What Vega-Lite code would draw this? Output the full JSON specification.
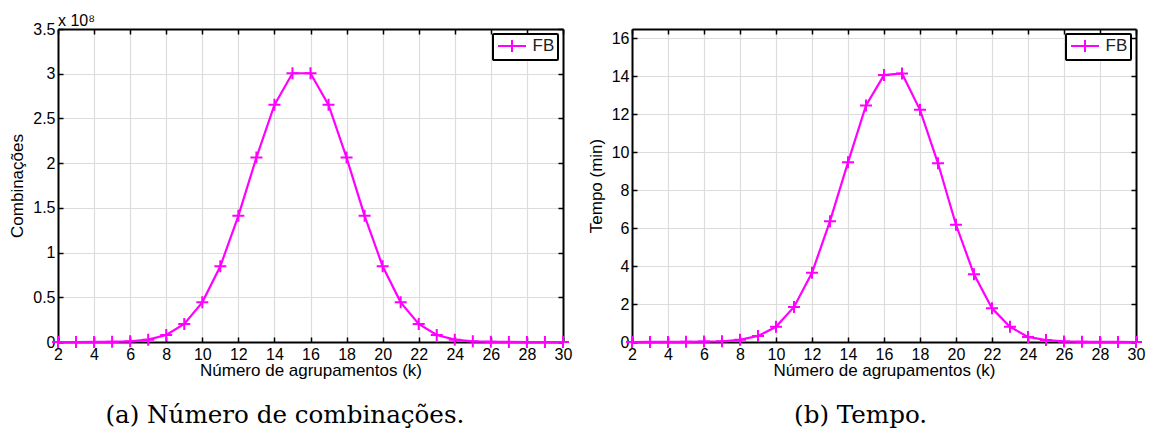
{
  "$schema": "https://vega.github.io/schema/vega-lite/v6.json",
  "background": "white",
  "padding": {"left": 8, "top": 13, "right": 5, "bottom": 4},
  "datasets": {
    "comb": [
      {"k": 2, "v": 465}, {"k": 3, "v": 4495}, {"k": 4, "v": 31465}, {"k": 5, "v": 169911},
      {"k": 6, "v": 736281}, {"k": 7, "v": 2629575}, {"k": 8, "v": 7888725}, {"k": 9, "v": 20160075},
      {"k": 10, "v": 44352165}, {"k": 11, "v": 84672315}, {"k": 12, "v": 141120525}, {"k": 13, "v": 206253075},
      {"k": 14, "v": 265182525}, {"k": 15, "v": 300540195}, {"k": 16, "v": 300540195}, {"k": 17, "v": 265182525},
      {"k": 18, "v": 206253075}, {"k": 19, "v": 141120525}, {"k": 20, "v": 84672315}, {"k": 21, "v": 44352165},
      {"k": 22, "v": 20160075}, {"k": 23, "v": 7888725}, {"k": 24, "v": 2629575}, {"k": 25, "v": 736281},
      {"k": 26, "v": 169911}, {"k": 27, "v": 31465}, {"k": 28, "v": 4495}, {"k": 29, "v": 465}, {"k": 30, "v": 31}
    ],
    "tempo": [
      {"k": 2, "v": 0.001}, {"k": 3, "v": 0.002}, {"k": 4, "v": 0.005}, {"k": 5, "v": 0.01},
      {"k": 6, "v": 0.02}, {"k": 7, "v": 0.04}, {"k": 8, "v": 0.12}, {"k": 9, "v": 0.32},
      {"k": 10, "v": 0.8}, {"k": 11, "v": 1.85}, {"k": 12, "v": 3.65}, {"k": 13, "v": 6.37},
      {"k": 14, "v": 9.47}, {"k": 15, "v": 12.47}, {"k": 16, "v": 14.07}, {"k": 17, "v": 14.16},
      {"k": 18, "v": 12.24}, {"k": 19, "v": 9.42}, {"k": 20, "v": 6.18}, {"k": 21, "v": 3.57},
      {"k": 22, "v": 1.78}, {"k": 23, "v": 0.8}, {"k": 24, "v": 0.27}, {"k": 25, "v": 0.1},
      {"k": 26, "v": 0.03}, {"k": 27, "v": 0.01}, {"k": 28, "v": 0.005}, {"k": 29, "v": 0.002}, {"k": 30, "v": 0.001}
    ]
  },
  "config": {
    "font": "Liberation Sans",
    "view": {"stroke": null},
    "axis": {
      "domainColor": "black",
      "domainWidth": 2,
      "tickColor": "black",
      "tickWidth": 1.5,
      "gridColor": "#dcdcdc",
      "gridWidth": 1.2,
      "labelFont": "Liberation Sans",
      "labelFontSize": 16,
      "labelColor": "black",
      "labelFlush": false,
      "titleFont": "Liberation Sans",
      "titleFontSize": 17,
      "titleFontWeight": "normal",
      "titleColor": "black"
    },
    "legend": {
      "orient": "top-right",
      "offset": 5,
      "strokeColor": "black",
      "strokeWidth": 2,
      "fillColor": "white",
      "padding": 3.5,
      "cornerRadius": 1,
      "title": null,
      "labelFont": "Liberation Sans",
      "labelFontSize": 17,
      "labelColor": "#222222",
      "symbolType": "M-2,0L2,0M0,-0.86L0,0.86",
      "symbolSize": 196,
      "symbolOffset": 7,
      "labelOffset": 12,
      "symbolStrokeWidth": 2,
      "symbolStrokeColor": "#ff00ff",
      "symbolFillColor": "transparent"
    },
    "title": {"fontWeight": "normal", "color": "black"}
  },
  "spacing": 14,
  "resolve": {"scale": {"color": "independent"}, "legend": {"color": "independent"}},
  "hconcat": [
    {
      "title": {"text": "(a) Número de combinações.", "orient": "bottom", "anchor": "middle", "font": "DejaVu Serif", "fontSize": 24.6, "offset": 26, "dx": -6},
      "resolve": {"scale": {"color": "independent"}, "legend": {"color": "independent"}},
      "vconcat": [
        {
          "title": {"text": "x 10⁸", "anchor": "start", "frame": "group", "font": "Liberation Sans", "fontSize": 16, "offset": -8},
          "width": 505,
          "height": 313,
          "data": {"name": "comb"},
          "resolve": {"axis": {"x": "independent", "y": "independent"}},
          "layer": [
            {
              "mark": {"type": "line", "color": "#ff00ff", "strokeWidth": 2.2},
              "encoding": {
                "x": {"field": "k", "type": "quantitative", "scale": {"domain": [2, 30], "nice": false},
                      "axis": {"title": "Número de agrupamentos (k)", "values": [2,4,6,8,10,12,14,16,18,20,22,24,26,28,30], "tickSize": -5, "labelPadding": 9, "titlePadding": 0}},
                "y": {"field": "v", "type": "quantitative", "scale": {"domain": [0, 350000000], "nice": false},
                      "axis": {"title": "Combinações", "values": [0,50000000,100000000,150000000,200000000,250000000,300000000,350000000], "labelExpr": "datum.value / 100000000", "tickSize": -5, "labelPadding": 8, "titlePadding": 6}},
                "color": {"datum": "FB", "scale": {"range": ["#ff00ff"]}}
              }
            },
            {
              "mark": {"type": "point", "shape": "M-1,0L1,0M0,-1L0,1", "filled": false, "size": 144, "strokeWidth": 2, "opacity": 1},
              "encoding": {
                "x": {"field": "k", "type": "quantitative", "axis": {"orient": "top", "grid": false, "labels": false, "title": null, "values": [2,4,6,8,10,12,14,16,18,20,22,24,26,28,30], "tickSize": -5}},
                "y": {"field": "v", "type": "quantitative", "axis": {"orient": "right", "grid": false, "labels": false, "title": null, "values": [0,50000000,100000000,150000000,200000000,250000000,300000000,350000000], "tickSize": -5}},
                "color": {"datum": "FB"}
              }
            }
          ]
        }
      ]
    },
    {
      "title": {"text": "(b) Tempo.", "orient": "bottom", "anchor": "middle", "font": "DejaVu Serif", "fontSize": 24.6, "offset": 26, "dx": -6},
      "resolve": {"scale": {"color": "independent"}, "legend": {"color": "independent"}},
      "vconcat": [
        {
          "title": {"text": " ", "anchor": "start", "frame": "group", "font": "Liberation Sans", "fontSize": 16, "offset": -8},
          "width": 504,
          "height": 313,
          "data": {"name": "tempo"},
          "resolve": {"axis": {"x": "independent", "y": "independent"}},
          "layer": [
            {
              "mark": {"type": "line", "color": "#ff00ff", "strokeWidth": 2.2},
              "encoding": {
                "x": {"field": "k", "type": "quantitative", "scale": {"domain": [2, 30], "nice": false},
                      "axis": {"title": "Número de agrupamentos (k)", "values": [2,4,6,8,10,12,14,16,18,20,22,24,26,28,30], "tickSize": -5, "labelPadding": 9, "titlePadding": 0}},
                "y": {"field": "v", "type": "quantitative", "scale": {"domain": [0, 16.5], "nice": false},
                      "axis": {"title": "Tempo (min)", "values": [0,2,4,6,8,10,12,14,16], "tickSize": -5, "labelPadding": 8, "titlePadding": 6}},
                "color": {"datum": "FB", "scale": {"range": ["#ff00ff"]}}
              }
            },
            {
              "mark": {"type": "point", "shape": "M-1,0L1,0M0,-1L0,1", "filled": false, "size": 144, "strokeWidth": 2, "opacity": 1},
              "encoding": {
                "x": {"field": "k", "type": "quantitative", "axis": {"orient": "top", "grid": false, "labels": false, "title": null, "values": [2,4,6,8,10,12,14,16,18,20,22,24,26,28,30], "tickSize": -5}},
                "y": {"field": "v", "type": "quantitative", "axis": {"orient": "right", "grid": false, "labels": false, "title": null, "values": [0,2,4,6,8,10,12,14,16], "tickSize": -5}},
                "color": {"datum": "FB"}
              }
            }
          ]
        }
      ]
    }
  ]
}
